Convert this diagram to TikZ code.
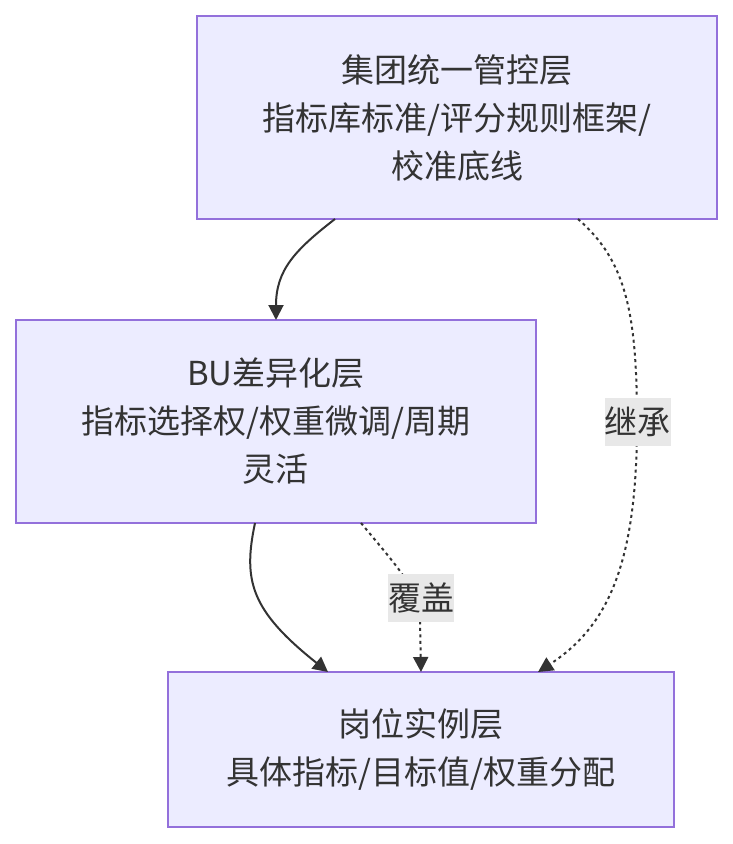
\documentclass[tikz,border=0pt]{standalone}
\usepackage{fontspec}
\setmainfont{Noto Sans CJK SC}
\usetikzlibrary{arrows.meta}
\definecolor{boxfill}{HTML}{ECECFF}
\definecolor{boxline}{HTML}{9370DB}
\definecolor{ink}{HTML}{333333}
\definecolor{lblbg}{HTML}{E8E8E8}
\tikzset{
  layer/.style={draw=boxline, fill=boxfill, line width=2pt, rectangle, align=center,
    text=ink, font=\fontsize{33}{48}\selectfont, inner sep=0pt},
  link/.style={draw=ink, line width=2pt, -{Triangle[length=15pt,width=15pt]}},
  dlink/.style={link, dash pattern=on 3pt off 3.5pt},
  lbl/.style={fill=lblbg, text=ink, font=\fontsize{33}{48}\selectfont, inner sep=0pt,
    minimum width=64pt, minimum height=48pt}
}
\begin{document}
\begin{tikzpicture}[x=1pt,y=-1pt]
\useasboundingbox (0,0) rectangle (733,844);
\node[layer, minimum width=520pt, minimum height=203pt] (top) at (457,117.5)
  {集团统一管控层\\指标库标准/评分规则框架/\\校准底线};
\node[layer, minimum width=520pt, minimum height=203pt] (mid) at (276,421.5)
  {BU差异化层\\指标选择权/权重微调/周期\\灵活};
\node[layer, minimum width=506pt, minimum height=155pt] (bot) at (421,749.5)
  {岗位实例层\\具体指标/目标值/权重分配};
\coordinate (t1) at (335,219);
\coordinate (t2) at (578,219);
\coordinate (m1) at (255,523);
\coordinate (m2) at (361,523);
\coordinate (b1) at (328,672);
\coordinate (b2) at (421,672);
\coordinate (b3) at (538,672);
\coordinate (mtop) at (276,320);
\draw[link] (t1) .. controls (295,250) and (276,270) .. (mtop);
\draw[dlink] (t2) .. controls (625,260) and (637,310) .. (637,422) .. controls (637,560) and (610,625) .. (b3);
\draw[link] (m1) .. controls (243,580) and (250,610) .. (b1);
\draw[dlink] (m2) .. controls (400,570) and (419,590) .. (420,620) -- (b2);
\node[lbl] (l1) at (637.5,422) {继承};
\node[lbl] (l2) at (421,598) {覆盖};
\end{tikzpicture}
\end{document}
